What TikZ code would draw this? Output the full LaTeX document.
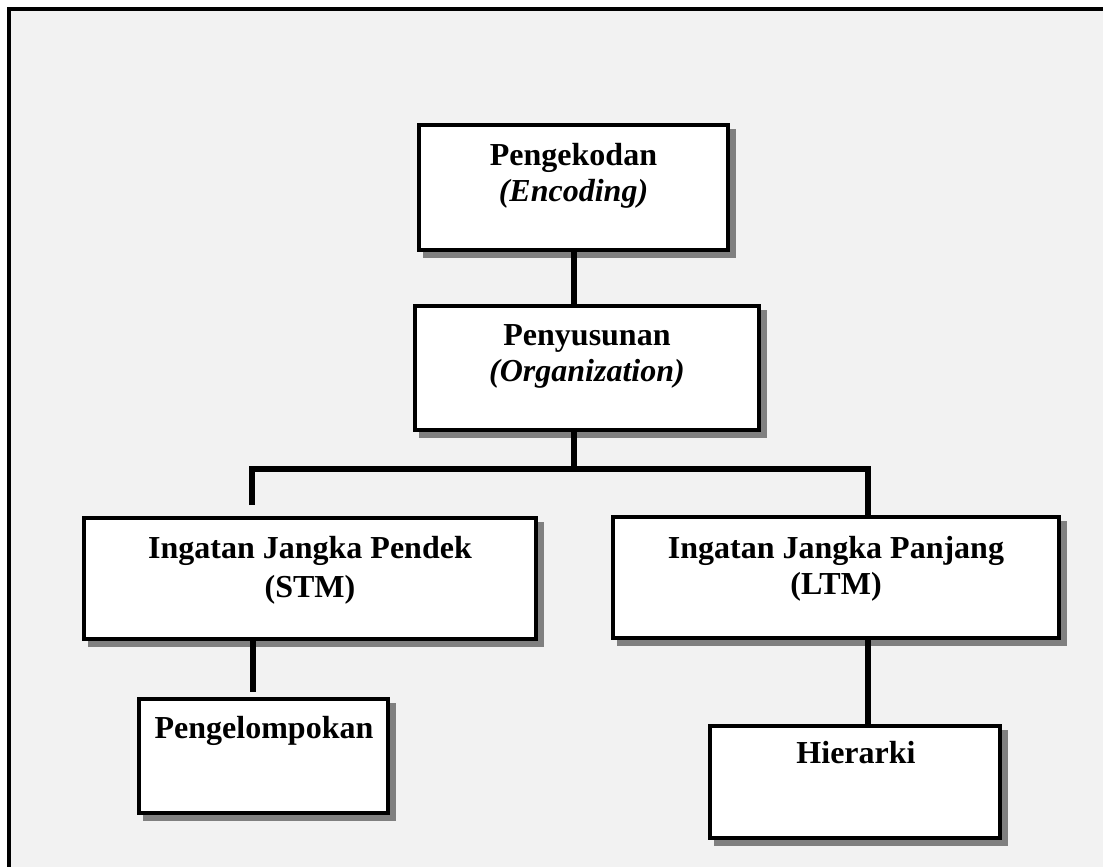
\documentclass[tikz,border=0pt]{standalone}
\usepackage{fontspec}
\setmainfont{Liberation Serif}
\pgfdeclarelayer{back}
\pgfdeclarelayer{shade}
\pgfsetlayers{back,shade,main}
\definecolor{paper}{RGB}{242,242,242}
\definecolor{shadowgray}{RGB}{128,128,128}
\newcommand{\boxshadow}[1]{%
  \begin{pgfonlayer}{shade}
    \fill[shadowgray] ([shift={(6,6)}]#1.north west) rectangle ([shift={(6,6)}]#1.south east);
  \end{pgfonlayer}}
\begin{document}
\begin{tikzpicture}[x=1pt,y=-1pt,
  box/.style={draw=black, line width=4pt, fill=white, rectangle, inner sep=0pt},
  wire/.style={line width=5.5pt, draw=black, line join=miter},
  lbl/.style={anchor=base, inner sep=0pt, font=\fontsize{32}{37}\selectfont\bfseries},
  ilbl/.style={anchor=base, inner sep=0pt, font=\fontsize{32}{37}\selectfont\bfseries\itshape}]
  \useasboundingbox (0,0) rectangle (1103,867);

  % sheet and its frame
  \begin{pgfonlayer}{back}
    \fill[paper] (9,9) rectangle (1103,867);
  \end{pgfonlayer}
  \draw[line width=3.7pt, line join=miter] (9,867) -- (9,9) -- (1103,9);

  % boxes
  \node[box, minimum width=309pt, minimum height=125pt] (enc) at (573.5,187.5) {};
  \node[box, minimum width=344pt, minimum height=124pt] (pys) at (587,368) {};
  \node[box, minimum width=452pt, minimum height=121pt] (stm) at (310,578.5) {};
  \node[box, minimum width=446pt, minimum height=121pt] (ltm) at (836,577.5) {};
  \node[box, minimum width=249pt, minimum height=114pt] (grp) at (263.5,756) {};
  \node[box, minimum width=290pt, minimum height=112pt] (hie) at (855,782) {};
  \boxshadow{enc}\boxshadow{pys}\boxshadow{stm}\boxshadow{ltm}\boxshadow{grp}\boxshadow{hie}

  % labels
  \node[lbl]  (enc-a) at (573.5,165) {Pengekodan};
  \node[ilbl] (enc-b) at (573.5,201) {(Encoding)};
  \node[lbl]  (pys-a) at (587,345) {Penyusunan};
  \node[ilbl] (pys-b) at (587,381) {(Organization)};
  \node[lbl]  (stm-a) at (310,558) {Ingatan Jangka Pendek};
  \node[lbl]  (stm-b) at (310,597) {(STM)};
  \node[lbl]  (ltm-a) at (836,558) {Ingatan Jangka Panjang};
  \node[lbl]  (ltm-b) at (836,594) {(LTM)};
  \node[lbl]  (grp-a) at (264,738) {Pengelompokan};
  \node[lbl]  (hie-a) at (856,763) {Hierarki};

  % connectors
  \coordinate (mid) at (574,469);
  \coordinate (busL) at (252,469);
  \coordinate (busR) at (868,469);
  \coordinate (dropL) at (252,505);
  \coordinate (lowL) at (253,692);

  \draw[wire] (enc.south -| mid) -- (pys.north -| mid);
  \draw[wire] (pys.south -| mid) -- (mid);
  \draw[wire] (dropL) -- (busL) -- (busR) -- (busR |- ltm.north);
  \draw[wire] (stm.south -| lowL) -- (lowL);
  \draw[wire] (ltm.south -| busR) -- (hie.north -| busR);
\end{tikzpicture}
\end{document}
